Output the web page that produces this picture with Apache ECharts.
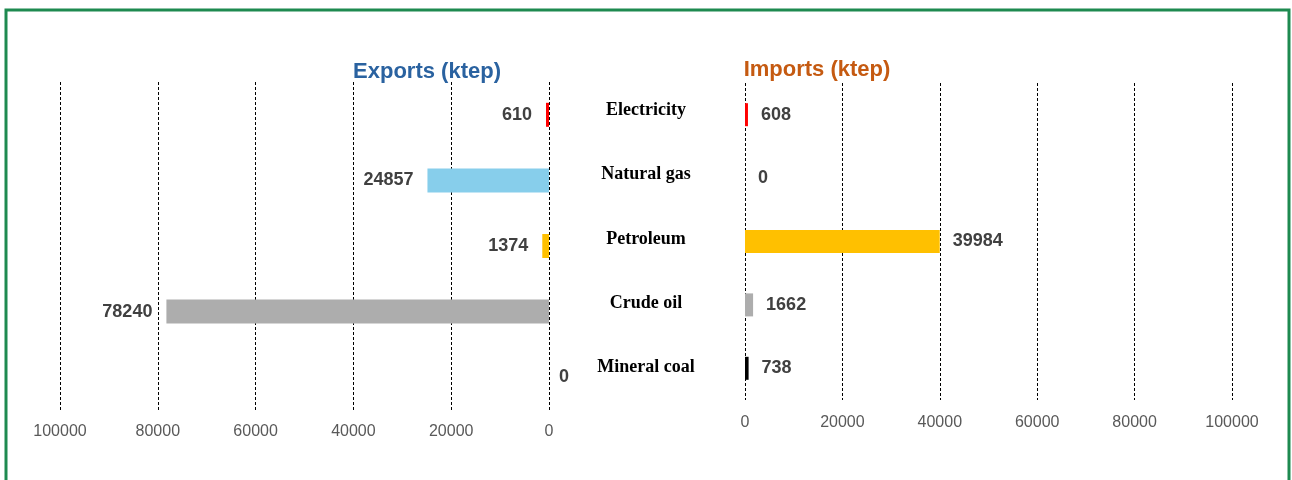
<!DOCTYPE html>
<html><head><meta charset="utf-8">
<script src="https://cdn.jsdelivr.net/npm/echarts@6/dist/echarts.min.js"></script>
<style>html,body{margin:0;padding:0;background:#fff}#c{width:1292px;height:480px}</style>
</head><body><div id="c"></div>
<script>
const categories = ['Electricity', 'Natural gas', 'Petroleum', 'Crude oil', 'Mineral coal'];
const exportsValues = [610, 24857, 1374, 78240, 0];
const importsValues = [608, 0, 39984, 1662, 738];
const barColors = ['#ff0000', '#87ceeb', '#ffc000', '#adadad', '#000000'];
const axisTicks = [0, 20000, 40000, 60000, 80000, 100000];

const chart = echarts.init(document.getElementById('c'));
const labelStyle = {fontFamily: 'Liberation Sans, Arial, sans-serif', fontWeight: 'bold', fontSize: 18, color: '#404040'};
const axisLabelStyle = {fontFamily: 'Liberation Sans, Arial, sans-serif', fontSize: 16, color: '#595959', formatter: v => String(v)};
const splitLine = {show: true, lineStyle: {type: [3, 2], color: '#000', width: 1}};

chart.setOption({
  animation: false,
  graphic: [{type: 'rect', shape: {x: 6, y: 10, width: 1283, height: 520}, style: {fill: 'none', stroke: '#1e8a50', lineWidth: 3}}],
  title: [
    {text: 'Exports (ktep)', left: 422, top: 56, textAlign: 'center', textStyle: {fontFamily: 'Liberation Sans, Arial, sans-serif', fontWeight: 'bold', fontSize: 22, color: '#2a62a0'}},
    {text: 'Imports (ktep)', left: 812, top: 54, textAlign: 'center', textStyle: {fontFamily: 'Liberation Sans, Arial, sans-serif', fontWeight: 'bold', fontSize: 22, color: '#c55a11'}}
  ],
  grid: [
    {left: 60, right: 1292 - 549, top: 82, height: 328},
    {left: 745, right: 1292 - 1232, top: 83, height: 317},
    {left: 646, width: 1, top: 78, height: 322}
  ],
  xAxis: [
    {gridIndex: 0, type: 'value', min: axisTicks[0], max: axisTicks[axisTicks.length - 1], interval: 20000, inverse: true,
     axisLine: {show: false}, axisTick: {show: false}, splitLine: splitLine, axisLabel: Object.assign({margin: 14}, axisLabelStyle)},
    {gridIndex: 1, type: 'value', min: axisTicks[0], max: axisTicks[axisTicks.length - 1], interval: 20000,
     axisLine: {show: false}, axisTick: {show: false}, splitLine: splitLine, axisLabel: Object.assign({margin: 15}, axisLabelStyle)},
    {gridIndex: 2, type: 'value', show: false}
  ],
  yAxis: [
    {gridIndex: 0, type: 'category', data: categories, inverse: true, axisLine: {show: false}, axisTick: {show: false}, axisLabel: {show: false}},
    {gridIndex: 1, type: 'category', data: categories, inverse: true, axisLine: {show: false}, axisTick: {show: false}, axisLabel: {show: false}},
    {gridIndex: 2, type: 'category', data: categories, inverse: true, axisLine: {show: false}, axisTick: {show: false},
     axisLabel: {margin: 0, align: 'center', fontFamily: 'Liberation Serif, Times New Roman, serif', fontWeight: 'bold', fontSize: 18, color: '#000'}}
  ],
  series: [
    {type: 'bar', xAxisIndex: 0, yAxisIndex: 0, barWidth: 24,
     data: exportsValues.map((v, i) => ({value: v, itemStyle: {color: barColors[i]},
       label: v === 0 ? {position: 'right', distance: 10} : {}})),
     label: Object.assign({show: true, position: 'left', distance: 14}, labelStyle)},
    {type: 'bar', xAxisIndex: 1, yAxisIndex: 1, barWidth: 23,
     data: importsValues.map((v, i) => ({value: v, itemStyle: {color: barColors[i]}})),
     label: Object.assign({show: true, position: 'right', distance: 13}, labelStyle)},
    {type: 'bar', xAxisIndex: 2, yAxisIndex: 2, data: [], silent: true}
  ]
});
</script></body></html>
